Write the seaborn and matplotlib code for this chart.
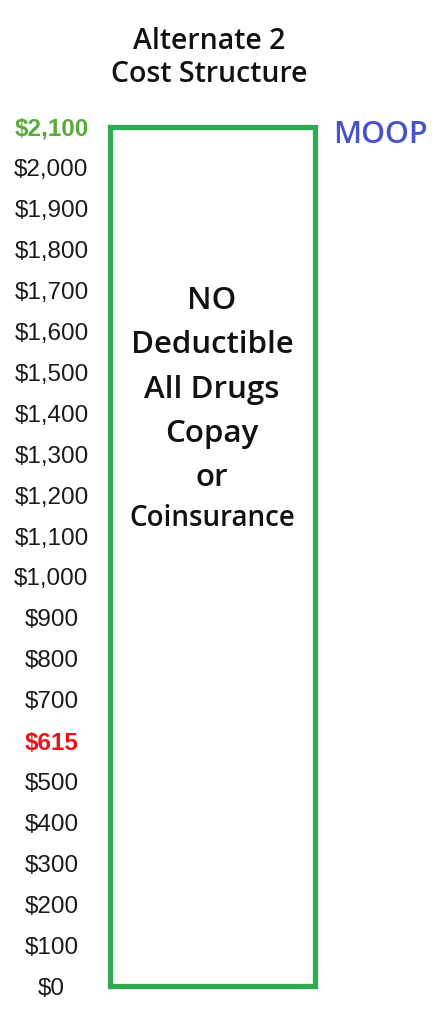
import matplotlib
matplotlib.use("Agg")
import matplotlib.pyplot as plt
import seaborn as sns

# cost levels on the axis (bottom to top) and the labels shown for them
tick_values = [0, 100, 200, 300, 400, 500, 600, 700, 800, 900, 1000,
               1100, 1200, 1300, 1400, 1500, 1600, 1700, 1800, 1900, 2000, 2100]
tick_labels = ["$0", "$100", "$200", "$300", "$400", "$500", "$615", "$700",
               "$800", "$900", "$1,000", "$1,100", "$1,200", "$1,300", "$1,400",
               "$1,500", "$1,600", "$1,700", "$1,800", "$1,900", "$2,000", "$2,100"]
plans = ["Alternate 2"]
moop = [2100]
box_lines = ["NO", "Deductible", "All Drugs", "Copay", "or", "Coinsurance"]

green = "#2faa4f"
sns.set_style("white")

W, H = 443, 1024
fig = plt.figure(figsize=(W / 100, H / 100), dpi=100)
ax = fig.add_axes([100 / W, (H - 1000) / H, 225 / W, 885 / H])

sns.barplot(x=plans, y=moop, ax=ax, width=0.91, color="white",
            edgecolor=green, linewidth=3.8, saturation=1)
ax.set_xlim(-0.5, 0.5)
ax.set_ylim(-34.2, 2129.3)
for s in ax.spines.values():
    s.set_visible(False)
ax.set_xticks([])
ax.set_xlabel("")
ax.set_ylabel("")

ax.set_yticks(tick_values)
ax.set_yticklabels(tick_labels)
ax.tick_params(axis="y", length=0, pad=35)
for lab in ax.get_yticklabels():
    lab.set_horizontalalignment("center")
    lab.set_fontfamily("Liberation Sans")
    lab.set_fontsize(17.5)
    lab.set_color("#1a1a1a")
    if lab.get_text() == "$2,100":
        lab.set_color("#5aab3c")
        lab.set_fontweight("bold")
    elif lab.get_text() == "$615":
        lab.set_color("#e8141b")
        lab.set_fontweight("bold")

def px(x, y):
    return x / W, 1 - y / H

fig.text(*px(209, 58), "Alternate 2\nCost Structure", ha="center", va="center",
         fontsize=20.5, family="Open Sans", weight="semibold", linespacing=1.2,
         color="#111111")
fig.text(*px(333, 135), "MOOP", ha="left", va="center", fontsize=22,
         family="Open Sans", weight="semibold", color="#4a52c8")

line_y = [301, 345, 390, 434, 478, 519]
for txt, yy in zip(box_lines, line_y):
    size = 20 if txt == "Coinsurance" else 22.5
    fig.text(*px(212, yy), txt, ha="center", va="center", fontsize=size,
             family="Open Sans", weight="semibold", color="#111111")

fig.savefig("out.png", dpi=100)
